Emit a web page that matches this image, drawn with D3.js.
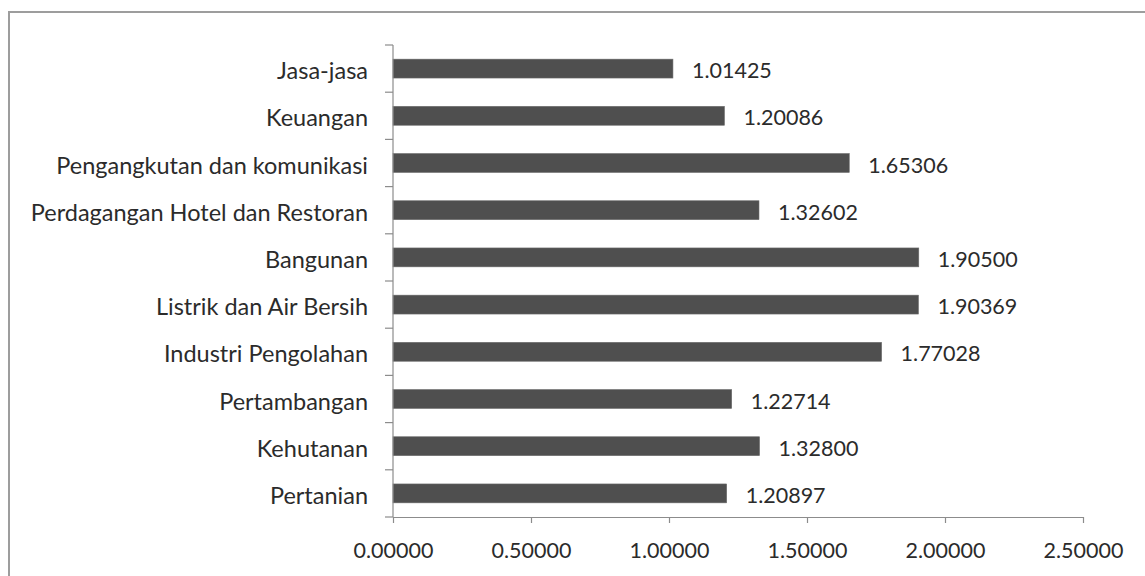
<!DOCTYPE html>
<html>
<head>
<meta charset="utf-8">
<script src="https://cdn.jsdelivr.net/npm/d3@7/dist/d3.min.js"></script>
<style>
  html, body { margin: 0; padding: 0; background: #ffffff; }
  svg { display: block; }
  text { font-family: Lato, "Open Sans", sans-serif; fill: #2b2b2b; }
</style>
</head>
<body>
<svg id="chart" width="1145" height="576"></svg>
<script>
// Sectors, listed top to bottom
const categories = [
  "Jasa-jasa",
  "Keuangan",
  "Pengangkutan dan komunikasi",
  "Perdagangan Hotel dan Restoran",
  "Bangunan",
  "Listrik dan Air Bersih",
  "Industri Pengolahan",
  "Pertambangan",
  "Kehutanan",
  "Pertanian"
];
const values = [1.01425, 1.20086, 1.65306, 1.32602, 1.90500, 1.90369, 1.77028, 1.22714, 1.32800, 1.20897];
const xTicks = [0, 0.5, 1.0, 1.5, 2.0, 2.5];

const svg = d3.select("#chart");
const W = 1145, H = 576;

// outer chart frame
svg.append("rect")
  .attr("x", 9).attr("y", 12)
  .attr("width", W + 10).attr("height", H + 10)
  .attr("fill", "none")
  .attr("stroke", "#9d9d9d")
  .attr("stroke-width", 2);

const plot = { left: 393, right: 1083, top: 45, bottom: 517 };

const x = d3.scaleLinear().domain([0, 2.5]).range([plot.left, plot.right]);
const y = d3.scaleBand()
  .domain(categories)
  .range([plot.top, plot.bottom])
  .paddingInner(0.6)
  .paddingOuter(0.3);

const fmt = d3.format(".5f");
const numSize = 21.5;   // numbers (value labels and axis ticks)
const labelSize = 23.5; // sector names

// bars
svg.append("g").selectAll("rect")
  .data(categories)
  .join("rect")
  .attr("x", x(0))
  .attr("y", c => y(c))
  .attr("width", (c, i) => x(values[i]) - x(0))
  .attr("height", y.bandwidth())
  .attr("fill", "#4f4f4f")
  .attr("stroke", "#6a6a6a")
  .attr("stroke-width", 0.6);

// value labels
svg.append("g").selectAll("text")
  .data(categories)
  .join("text")
  .attr("x", (c, i) => x(values[i]) + 19)
  .attr("y", c => y(c) + y.bandwidth() / 2 + 1.5)
  .attr("dominant-baseline", "central")
  .style("font-size", numSize + "px")
  .text((c, i) => fmt(values[i]));

// category axis
const step = y.step();
const start = plot.top;
const yAxis = svg.append("g");
yAxis.append("line")
  .attr("x1", x(0)).attr("x2", x(0))
  .attr("y1", plot.top).attr("y2", plot.bottom)
  .attr("stroke", "#8c8c8c").attr("stroke-width", 1.2);
yAxis.selectAll("line.tick")
  .data(d3.range(categories.length + 1))
  .join("line")
  .attr("class", "tick")
  .attr("x1", x(0) - 8).attr("x2", x(0))
  .attr("y1", i => start + i * step)
  .attr("y2", i => start + i * step)
  .attr("stroke", "#8c8c8c").attr("stroke-width", 1.2);
yAxis.selectAll("text")
  .data(categories)
  .join("text")
  .attr("x", x(0) - 25)
  .attr("y", c => y(c) + y.bandwidth() / 2 + 1.5)
  .attr("text-anchor", "end")
  .attr("dominant-baseline", "central")
  .style("font-size", labelSize + "px")
  .text(c => c);

// value axis
const xAxis = d3.axisBottom(x)
  .tickValues(xTicks)
  .tickFormat(fmt)
  .tickSizeInner(6)
  .tickSizeOuter(0)
  .tickPadding(20);
const gx = svg.append("g")
  .attr("transform", `translate(0,${plot.bottom})`)
  .call(xAxis);
gx.select(".domain").attr("stroke", "#8c8c8c").attr("stroke-width", 1.2);
gx.selectAll(".tick line").attr("stroke", "#8c8c8c").attr("stroke-width", 1.2);
gx.selectAll(".tick text")
  .style("font-family", "Lato, 'Open Sans', sans-serif")
  .style("font-size", numSize + "px")
  .attr("fill", "#2b2b2b");
</script>
</body>
</html>
